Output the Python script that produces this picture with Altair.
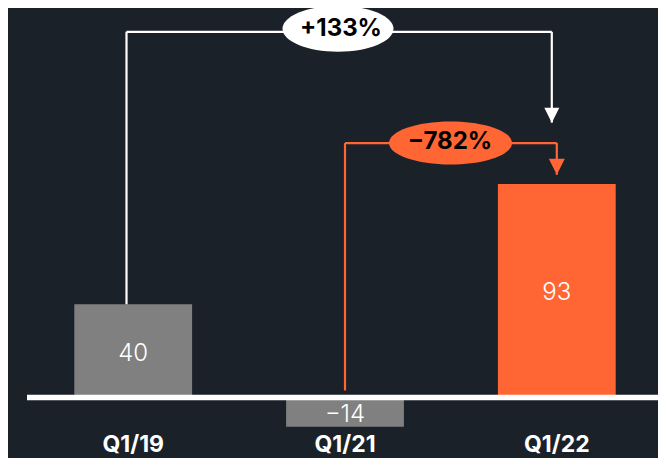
import altair as alt
import pandas as pd

# ---------------- data ----------------
categories = ["Q1/19", "Q1/21", "Q1/22"]
values = [40, -14, 93]
highlight_category = "Q1/22"

# growth brackets (data units)
growth_labels = ["+133%", "\u2212782%"]
growth_from = ["Q1/19", "Q1/21"]
growth_to = ["Q1/22", "Q1/22"]
growth_start = [40, 2]
growth_level = [160, 111]
growth_tip = [120, 97]
growth_anchor = ["Q1/21", "Q1/21"]

# ---------------- style ----------------
BG = "#1b2129"
GREY = "#808080"
ORANGE = "#ff6633"
WHITE = "#ffffff"
FONT = "Inter"
SW = 2.2

X_SCALE = alt.Scale(paddingInner=0.4438, paddingOuter=0.2564, align=0.6105)
Y_SCALE = alt.Scale(domain=[-16.3, 170.5], nice=False, zero=False)
X_AXIS = alt.Axis(
    title=None, labelAngle=0, domain=False, ticks=False, tickSize=0, grid=False,
    labelPadding=12, labelBaseline="middle", labelColor=WHITE, labelFont=FONT,
    labelFontSize=23, labelFontWeight="bold",
)


def X(field):
    return alt.X(f"{field}:N", sort=categories, scale=X_SCALE, axis=X_AXIS, title=None)


def Y(field):
    return alt.Y(f"{field}:Q", scale=Y_SCALE, axis=None, title=None)


bars_df = pd.DataFrame({"cat": categories, "value": values})

bars = alt.Chart(bars_df).mark_bar(strokeWidth=0).encode(
    x=X("cat"),
    y=Y("value"),
    y2=alt.datum(0),
    color=alt.condition(
        alt.datum.cat == highlight_category, alt.value(ORANGE), alt.value(GREY)
    ),
)

labels = alt.Chart(bars_df).transform_calculate(
    mid="datum.value / 2"
).mark_text(
    font=FONT, fontSize=24, fontWeight=300, color=WHITE, baseline="middle",
    align="center", yOffset=4,
).encode(
    x=X("cat"),
    y=Y("mid"),
    text=alt.Text("value:Q", format="d"),
)

baseline = alt.Chart(pd.DataFrame({"zero": [0]})).mark_rule(
    color=WHITE, strokeWidth=5.5, yOffset=2.5
).encode(
    y=alt.Y("zero:Q", scale=Y_SCALE, axis=None, title=None),
    x=alt.value(19),
    x2=alt.value(650),
)

TRI = "M-1,-1L1,-1L0,1Z"


def ellipse(ratio):
    return f"M-1,0A1,{ratio} 0 1,1 1,0A1,{ratio} 0 1,1 -1,0Z"


def bracket(i, color, dx_from, dx_to, head, ell_w, ell_h, ell_dx, ell_dy, txt_dx, txt_dy):
    row = pd.DataFrame({
        "cat": [growth_from[i]],
        "cat2": [growth_to[i]],
        "anchor": [growth_anchor[i]],
        "start": [growth_start[i]],
        "level": [growth_level[i]],
        "tip": [growth_tip[i]],
        "label": [growth_labels[i]],
    })
    base = alt.Chart(row)
    up = base.mark_rule(color=color, strokeWidth=SW, xOffset=dx_from).encode(
        x=X("cat"), y=Y("start"), y2="level:Q"
    )
    across = base.mark_rule(
        color=color, strokeWidth=SW, xOffset=dx_from, x2Offset=dx_to
    ).encode(x=X("cat"), x2="cat2:N", y=Y("level"))
    down = base.mark_rule(color=color, strokeWidth=SW, xOffset=dx_to).encode(
        x=X("cat2"), y=Y("level"), y2="tip:Q"
    )
    arrow = base.mark_point(
        shape=TRI, size=head * head, filled=True, color=color, opacity=1,
        strokeWidth=0, xOffset=dx_to, yOffset=-head / 2,
    ).encode(x=X("cat2"), y=Y("tip"))
    oval = base.mark_point(
        shape=ellipse(round(ell_h / ell_w, 3)), size=ell_w * ell_w, filled=True,
        color=color, opacity=1, strokeWidth=0, xOffset=ell_dx, yOffset=ell_dy,
    ).encode(x=X("anchor"), y=Y("level"))
    txt = base.mark_text(
        font=FONT, fontSize=24, fontWeight="bold", color="#000000",
        baseline="middle", align="center", xOffset=txt_dx, yOffset=txt_dy,
    ).encode(x=X("anchor"), y=Y("level"), text="label:N")
    return [up, across, down, arrow, oval, txt]


layers = [bars, labels, baseline]
layers += bracket(0, WHITE, -6.7, -5, 15, 111, 46, -7, -3, -4, -3)
layers += bracket(1, ORANGE, 0, 0, 16, 123, 43, 105.5, 0, 105, -1)

chart = alt.layer(*layers).properties(
    width=650,
    height=424,
    background=BG,
    padding={"left": 0, "top": 0, "right": 0, "bottom": 26},
    autosize=alt.AutoSizeParams(type="none"),
).configure_view(strokeWidth=0)

chart.save("out.html", embed_options={"renderer": "svg", "actions": False})
